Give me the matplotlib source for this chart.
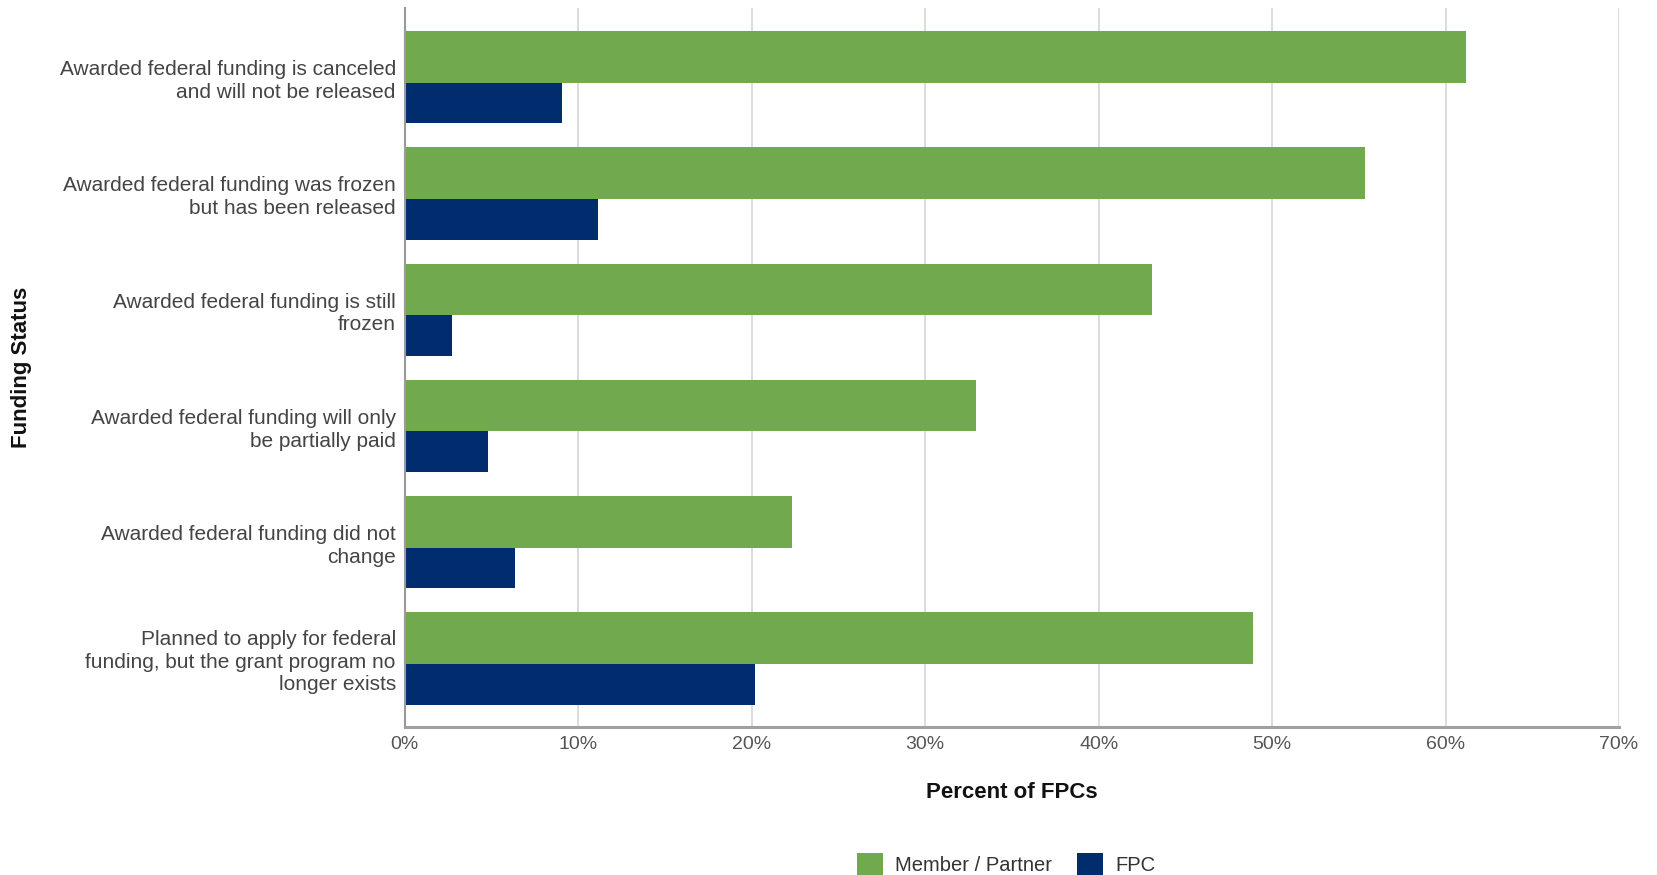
import matplotlib
matplotlib.use("Agg")
import matplotlib.pyplot as plt
from matplotlib.ticker import FuncFormatter
from matplotlib.transforms import ScaledTranslation
import numpy as np

categories = [
    "Awarded federal funding is canceled\nand will not be released",
    "Awarded federal funding was frozen\nbut has been released",
    "Awarded federal funding is still\nfrozen",
    "Awarded federal funding will only\nbe partially paid",
    "Awarded federal funding did not\nchange",
    "Planned to apply for federal\nfunding, but the grant program no\nlonger exists",
]
member_partner = [61.2, 55.35, 43.1, 32.95, 22.35, 48.9]
fpc = [9.05, 11.15, 2.7, 4.8, 6.35, 20.2]
series_names = ["Member / Partner", "FPC"]
x_ticks = [0, 10, 20, 30, 40, 50, 60, 70]

GREEN = "#71a94f"
BLUE = "#012d6e"
FONT = ["Liberation Sans", "DejaVu Sans"]

plt.rcParams["font.family"] = FONT

W, H = 1657, 875
fig = plt.figure(figsize=(W / 100, H / 100), dpi=100)
left, right, top, bottom = 404.8, 1619, 7.5, 727.3
ax = fig.add_axes([left / W, 1 - bottom / H, (right - left) / W, (bottom - top) / H])

y = np.arange(len(categories))
ax.barh(y - 0.175, member_partner, height=0.444, color=GREEN, label=series_names[0], zorder=3)
ax.barh(y + 0.222, fpc, height=0.35, color=BLUE, label=series_names[1], zorder=3)

ax.set_xlim(0, 70)
ax.set_ylim(5.593, -0.6)
ax.set_xticks(x_ticks)
ax.xaxis.set_major_formatter(FuncFormatter(lambda v, p: f"{int(v)}%"))
ax.set_yticks(y)
ax.set_yticklabels(categories, fontsize=15, color="#444444", linespacing=1.24)
shift = ScaledTranslation(0, 2.2 / 100, fig.dpi_scale_trans)
for t in ax.get_yticklabels():
    t.set_horizontalalignment("right")
    t.set_transform(t.get_transform() + shift)
ax.tick_params(axis="y", length=0, pad=6.5)
ax.tick_params(axis="x", length=0, pad=6.5, labelsize=14, labelcolor="#555555")

ax.grid(axis="x", color="#d6d6d6", linewidth=1.2, zorder=0)
ax.set_axisbelow(True)
for s in ["top", "right"]:
    ax.spines[s].set_visible(False)
ax.spines["left"].set_color("#9a9a9a")
ax.spines["left"].set_linewidth(1.5)
ax.spines["bottom"].set_color("#a0a0a0")
ax.spines["bottom"].set_linewidth(2.2)
ax.spines["left"].set_zorder(4)

fig.text(1012 / W, 1 - 792 / H, "Percent of FPCs", ha="center", va="center",
         fontsize=16, fontweight="bold", color="#111111")
fig.text(22 / W, 1 - 367 / H, "Funding Status", ha="center", va="center",
         rotation=90, fontsize=16, fontweight="bold", color="#111111")

leg = fig.legend(loc="center", bbox_to_anchor=(1006 / W, 1 - 864 / H), ncol=2,
                 frameon=False, fontsize=14.5, handlelength=1.3, handleheight=1.3,
                 handletextpad=0.6, columnspacing=1.25, borderpad=0)
for t in leg.get_texts():
    t.set_color("#333333")

fig.savefig("out.png", dpi=100)
